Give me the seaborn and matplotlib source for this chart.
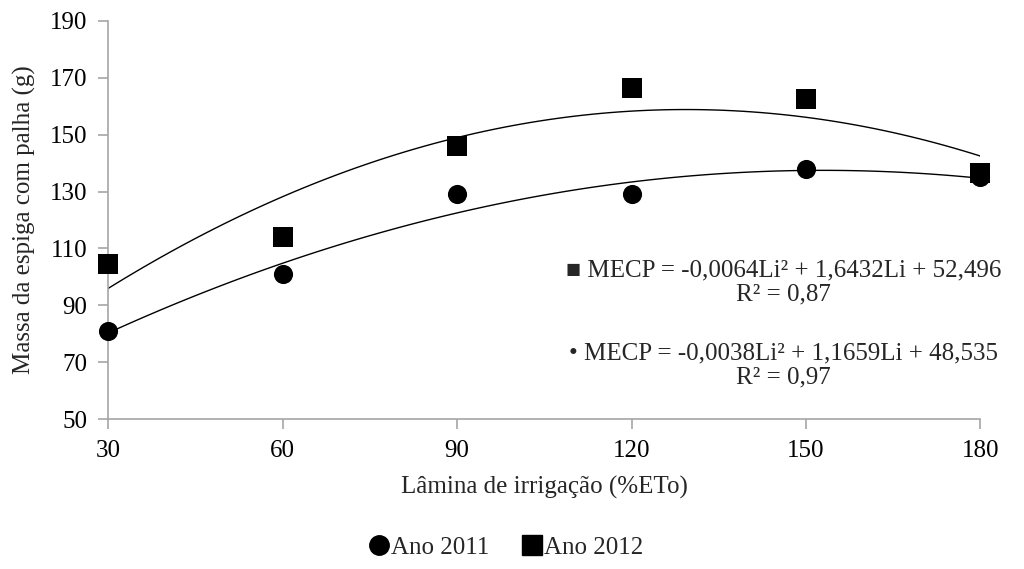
import matplotlib
matplotlib.use("Agg")
import matplotlib.pyplot as plt
import pandas as pd
import seaborn as sns
from matplotlib.lines import Line2D

lamina = [30, 60, 90, 120, 150, 180]
massa_2011 = [81, 101, 129, 129, 138, 135]
massa_2012 = [104.5, 114, 146, 166.5, 162.5, 136.5]
yticks = [50, 70, 90, 110, 130, 150, 170, 190]

eq_2012 = "\u25a0 MECP = -0,0064Li\u00b2 + 1,6432Li + 52,496\nR\u00b2 = 0,87"
eq_2011 = "\u2022 MECP = -0,0038Li\u00b2 + 1,1659Li + 48,535\nR\u00b2 = 0,97"

if __name__ == "__main__":
    sns.set_theme(style="white")
    plt.rcParams["font.family"] = ["Liberation Serif", "DejaVu Serif"]

    df = pd.DataFrame({
        "lamina": lamina * 2,
        "massa": massa_2011 + massa_2012,
        "ano": ["Ano 2011"] * 6 + ["Ano 2012"] * 6,
    })

    fig = plt.figure(figsize=(10.24, 5.69), dpi=100)
    ax = fig.add_axes([0.1055, 0.2636, 0.852, 0.6995])

    for ano, marker, size in [("Ano 2011", "o", 190), ("Ano 2012", "s", 210)]:
        sub = df[df["ano"] == ano]
        sns.regplot(x="lamina", y="massa", data=sub, order=2, ci=None,
                    scatter=False, color="black", line_kws={"lw": 1}, ax=ax)
        sns.scatterplot(x="lamina", y="massa", data=sub, marker=marker,
                        s=size, color="black", edgecolor="black",
                        linewidth=0, ax=ax, zorder=3, legend=False,
                        clip_on=False)

    ax.set_xlim(30, 180)
    ax.set_ylim(50, 190)
    ax.set_xticks(lamina)
    ax.set_yticks(yticks)
    for side in ["top", "right"]:
        ax.spines[side].set_visible(False)
    for side in ["left", "bottom"]:
        ax.spines[side].set_color("#a6a6a6")
        ax.spines[side].set_linewidth(1.2)
    ax.tick_params(axis="both", which="both", direction="out", length=7,
                   width=1.2, color="#a6a6a6", labelsize=18, labelcolor="black",
                   left=True, bottom=True)
    ax.tick_params(axis="x", pad=8)
    ax.tick_params(axis="y", pad=8)
    ax.set_xlabel("L\u00e2mina de irriga\u00e7\u00e3o (%ETo)", fontsize=18, labelpad=10)
    ax.set_ylabel("Massa da espiga com palha (g)", fontsize=18, labelpad=10)

    ax.text(0.774, 0.343, eq_2012, transform=ax.transAxes, ha="center",
            va="center", fontsize=18, linespacing=1.15, clip_on=False)
    ax.text(0.774, 0.134, eq_2011, transform=ax.transAxes, ha="center",
            va="center", fontsize=18, linespacing=1.15, clip_on=False)

    handles = [
        Line2D([], [], marker="o", color="black", linestyle="none", markersize=14),
        Line2D([], [], marker="s", color="black", linestyle="none", markersize=14),
    ]
    fig.legend(handles, ["Ano 2011", "Ano 2012"], loc="center",
               bbox_to_anchor=(0.493, 0.037), ncol=2, frameon=False, fontsize=18,
               handletextpad=0.0, columnspacing=1.2, handlelength=1.0)

    fig.savefig("out.png", dpi=100)
